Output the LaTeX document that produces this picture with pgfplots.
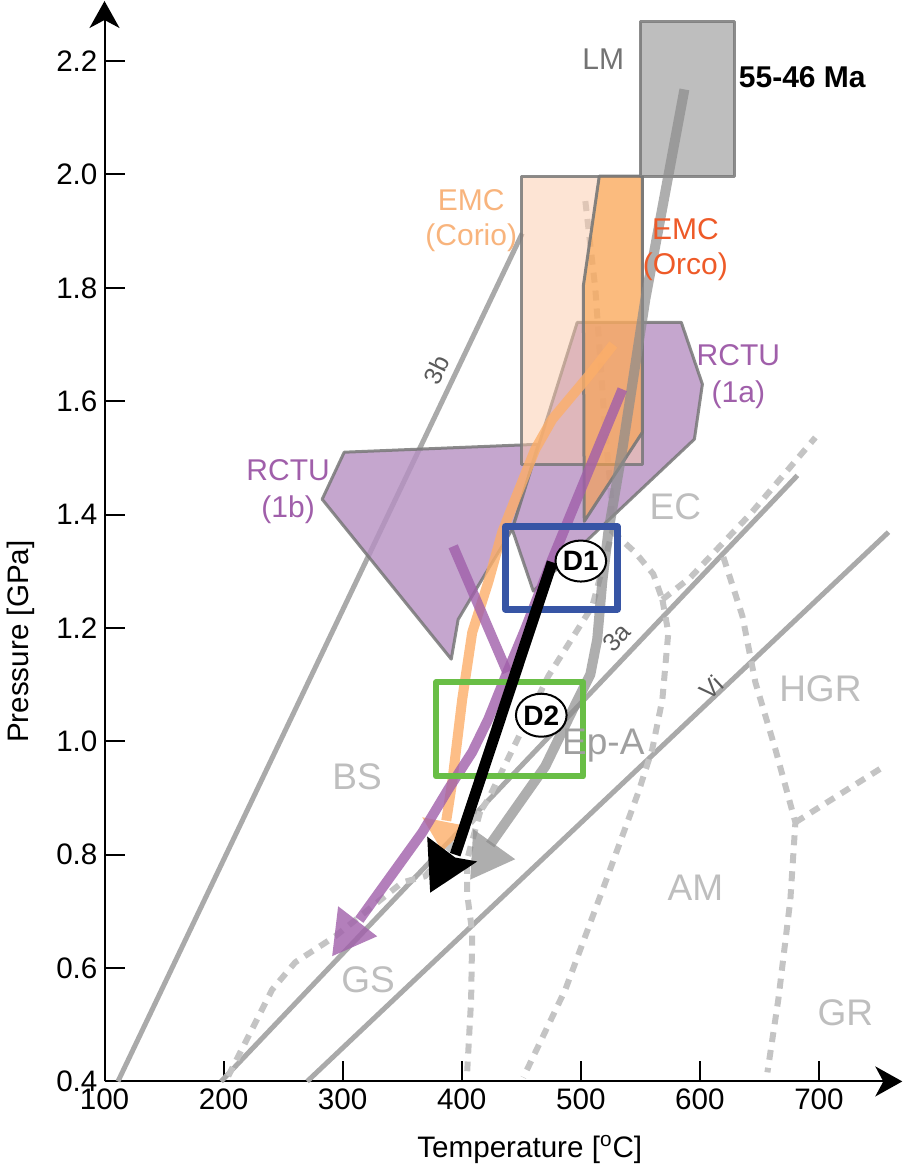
\documentclass[border=0pt]{standalone}
\usepackage{fontspec}
\setmainfont{Liberation Sans}
\usepackage{pgfplots}
\pgfplotsset{compat=1.18}
\usetikzlibrary{arrows.meta,shapes.geometric}

\definecolor{gridsolid}{RGB}{170,170,170}
\definecolor{griddash}{RGB}{196,196,196}
\definecolor{polyedge}{RGB}{120,120,120}
\definecolor{rctu}{RGB}{182,144,194}
\definecolor{corio}{RGB}{251,201,169}
\definecolor{orco}{RGB}{250,160,70}
\definecolor{lmbox}{RGB}{190,190,190}
\definecolor{lmpath}{RGB}{140,140,140}
\definecolor{orpath}{RGB}{252,174,105}
\definecolor{purpath}{RGB}{160,95,170}
\definecolor{dblue}{RGB}{55,85,165}
\definecolor{dgreen}{RGB}{105,190,70}
\definecolor{labcorio}{RGB}{248,180,125}
\definecolor{laborco}{RGB}{238,90,40}
\definecolor{faciestext}{RGB}{190,190,190}
\definecolor{linetext}{RGB}{90,90,90}

\begin{document}
\begin{tikzpicture}
\begin{axis}[
  scale only axis, width=398.75pt, height=540pt,
  xmin=100, xmax=770, ymin=0.4, ymax=2.306,
  axis lines*=left,
  axis line style={line width=1pt, -{Stealth[length=13.5pt,width=15pt,inset=4pt]}},
  xtick={100,200,300,400,500,600,700},
  ytick={0.4,0.6,0.8,1.0,1.2,1.4,1.6,1.8,2.0,2.2},
  yticklabel style={/pgf/number format/.cd, fixed, fixed zerofill, precision=1},
  /pgf/number format/assume math mode=true,
  tick align=inside, major tick length=10pt,
  tick style={black, line width=1pt},
  tick label style={font=\fontsize{14.8}{16}\selectfont},
  xlabel={Temperature [\textsuperscript{o}C]},
  ylabel={Pressure [GPa]},
  every axis x label/.style={at={(axis description cs:0.533,0)}, anchor=center, yshift=-34pt, font=\fontsize{14.8}{16}\selectfont},
  every axis y label/.style={at={(axis description cs:0,0.407)}, xshift=-42pt, rotate=90, anchor=center, font=\fontsize{14.8}{16}\selectfont},
  clip=false,
  line join=round,
]

% facies boundaries, solid
\addplot[gridsolid, line width=2.5pt] coordinates {(111.3,0.40) (450.8,1.896)};
\addplot[gridsolid, line width=2.5pt] coordinates {(197.9,0.40) (681.9,1.469)};
\addplot[gridsolid, line width=2.5pt] coordinates {(270.2,0.40) (758.4,1.369)};

% facies boundaries, dashed
\addplot[griddash, line width=3pt, dash pattern=on 5pt off 4pt] coordinates {
  (503.8,1.953) (512.2,1.798) (520.6,1.545) (524.8,1.450) (526.5,1.370)
  (509.6,1.238) (472.7,1.115) (422.3,0.898) (415.5,0.876) (369.3,0.762)
  (350.0,0.751) (293.7,0.656) (260.1,0.610) (240.8,0.562) (203.8,0.409)};
\addplot[griddash, line width=3pt, dash pattern=on 5pt off 4pt] coordinates {
  (526.5,1.370) (545.8,1.333) (560.9,1.295) (568.5,1.250)};
\addplot[griddash, line width=3pt, dash pattern=on 5pt off 4pt] coordinates {
  (415.5,0.876) (404.6,0.792) (404.6,0.730) (408.8,0.663) (407.9,0.545) (404.6,0.418)};
\addplot[griddash, line width=3pt, dash pattern=on 5pt off 4pt] coordinates {
  (568.5,1.250) (573.5,1.192) (568.5,1.074) (560.0,0.986) (548.3,0.910)
  (520.6,0.751) (487.0,0.562) (451.7,0.407)};
\addplot[griddash, line width=3pt, dash pattern=on 5pt off 4pt] coordinates {
  (568.5,1.250) (592.0,1.289) (642.4,1.401) (697.0,1.536)};
\addplot[griddash, line width=3pt, dash pattern=on 5pt off 4pt] coordinates {
  (619.7,1.325) (635.7,1.221) (646.6,1.104) (663.4,0.986) (680.2,0.857)
  (676.0,0.721) (665.9,0.545) (656.7,0.416)};
\addplot[griddash, line width=3pt, dash pattern=on 5pt off 4pt] coordinates {
  (680.2,0.857) (753.3,0.954)};

% RCTU fields
\addplot[fill=rctu, fill opacity=0.8, draw=polyedge, draw opacity=0.85, line width=1.5pt] coordinates {
  (282.8,1.427) (301.3,1.510) (464.3,1.524) (442.4,1.374) (419.7,1.295) (397.0,1.215) (391.2,1.145)} -- cycle;
\addplot[fill=rctu, fill opacity=0.8, draw=polyedge, draw opacity=0.85, line width=1.5pt] coordinates {
  (497.0,1.739) (584.4,1.739) (602.1,1.630) (595.4,1.533) (460.1,1.265) (442.4,1.374)} -- cycle;

% EMC fields
\addplot[fill=corio, fill opacity=0.5, draw=polyedge, draw opacity=0.85, line width=1.5pt] coordinates {
  (450.0,1.489) (551.7,1.489) (551.7,1.997) (450.0,1.997)} -- cycle;
\addplot[fill=orco, fill opacity=0.6, draw=polyedge, draw opacity=0.9, line width=1.5pt] coordinates {
  (515.5,1.997) (551.7,1.997) (551.7,1.545) (502.9,1.388) (502.1,1.803)} -- cycle;

% LM field
\addplot[fill=lmbox, draw=polyedge, draw opacity=0.85, line width=1.5pt] coordinates {
  (550,1.997) (629,1.997) (629,2.269) (550,2.269)} -- cycle;

% LM path
\addplot[lmpath, opacity=0.7, line width=5pt] coordinates {
  (587.0,2.150) (554.2,1.780) (534.9,1.515) (523.1,1.369) (518.0,1.281)
  (513.8,1.180) (508.0,1.118) (495.4,1.065) (470.2,0.956) (423.9,0.818)};
\addplot[fill=lmpath, fill opacity=0.7, draw=none] coordinates {
  (409.7,0.845) (444.9,0.792) (407.1,0.756)} -- cycle;

% EMC (Corio) path
\addplot[orpath, opacity=0.8, line width=5pt] coordinates {
  (527.3,1.700) (506.3,1.644) (476.0,1.568) (461.7,1.515) (444.9,1.427)
  (434.0,1.369) (422.3,1.281) (408.8,1.192) (400.4,1.074) (392.0,0.928) (387.0,0.860)};
\addplot[fill=orpath, fill opacity=0.8, draw=none] coordinates {
  (366.8,0.866) (405.4,0.850) (383.6,0.806)} -- cycle;

% RCTU paths
\addplot[purpath, opacity=0.8, line width=5pt] coordinates {
  (392.8,1.344) (438.2,1.122)};
\addplot[purpath, opacity=0.8, line width=5pt] coordinates {
  (534.9,1.621) (501.2,1.450) (476.0,1.321) (453.3,1.198) (438.2,1.122)
  (422.3,1.039) (408.8,0.981) (388.6,0.915) (366.8,0.839) (314.0,0.685)};
\addplot[fill=purpath, fill opacity=0.8, draw=none] coordinates {
  (296.2,0.709) (329.0,0.656) (291.2,0.621)} -- cycle;

% D1 and D2 fields
\addplot[dblue, line width=3.3pt] coordinates {
  (436.6,1.233) (530.7,1.233) (530.7,1.379) (436.6,1.379)} -- cycle;
\addplot[dgreen, line width=3pt] coordinates {
  (378.6,0.938) (502.1,0.938) (502.1,1.104) (378.6,1.104)} -- cycle;

% this study
\addplot[black, line width=5.5pt] coordinates {(476.0,1.316) (394.5,0.800)};
\addplot[fill=black, draw=none] coordinates {
  (371.0,0.832) (394.5,0.795) (413.0,0.788) (373.5,0.733)} -- cycle;

\node[ellipse, draw, fill=white, line width=1pt, inner sep=0pt,
  minimum width=24.5pt, minimum height=20.5pt, font=\bfseries\fontsize{14}{14}\selectfont]
  at (axis cs:500,1.318) {D1};
\node[ellipse, draw, fill=white, line width=1pt, inner sep=0pt,
  minimum width=25pt, minimum height=21.5pt, font=\bfseries\fontsize{14}{14}\selectfont]
  at (axis cs:466.8,1.046) {D2};

% labels
\node[text=gray!90!black, font=\fontsize{15}{16}\selectfont] at (axis cs:518.9,2.203) {LM};
\node[font=\bfseries\fontsize{15}{16}\selectfont] at (axis cs:686,2.172) {55-46 Ma};
\node[text=labcorio, align=center, font=\fontsize{15}{17.5}\selectfont] at (axis cs:408,1.918) {EMC\\(Corio)};
\node[text=laborco, align=center, font=\fontsize{15}{17.5}\selectfont] at (axis cs:587.8,1.868) {EMC\\(Orco)};
\node[text=purpath, align=center, font=\fontsize{15}{18.5}\selectfont] at (axis cs:632.3,1.644) {RCTU\\(1a)};
\node[text=purpath, align=center, font=\fontsize{15}{18.5}\selectfont] at (axis cs:254.2,1.441) {RCTU\\(1b)};

\node[text=faciestext, font=\fontsize{18.5}{19}\selectfont] at (axis cs:579.4,1.413) {EC};
\node[text=gray!75, font=\fontsize{18.5}{19}\selectfont] at (axis cs:518.9,0.993) {Ep-A};
\node[text=faciestext, font=\fontsize{18.5}{19}\selectfont] at (axis cs:312.2,0.938) {BS};
\node[text=faciestext, font=\fontsize{18.5}{19}\selectfont] at (axis cs:321.4,0.580) {GS};
\node[text=faciestext, font=\fontsize{18.5}{19}\selectfont] at (axis cs:596.2,0.742) {AM};
\node[text=faciestext, font=\fontsize{18.5}{19}\selectfont] at (axis cs:701.2,1.092) {HGR};
\node[text=faciestext, font=\fontsize{18.5}{19}\selectfont] at (axis cs:722.2,0.522) {GR};

\node[text=linetext, rotate=64, font=\fontsize{12.5}{13}\selectfont] at (axis cs:378.5,1.655) {3b};
\node[text=linetext, rotate=46, font=\fontsize{12.5}{13}\selectfont] at (axis cs:530,1.183) {3a};
\node[text=linetext, rotate=43, font=\fontsize{12.5}{13}\selectfont] at (axis cs:609.5,1.095) {Vi};
\end{axis}
\end{tikzpicture}
\end{document}
